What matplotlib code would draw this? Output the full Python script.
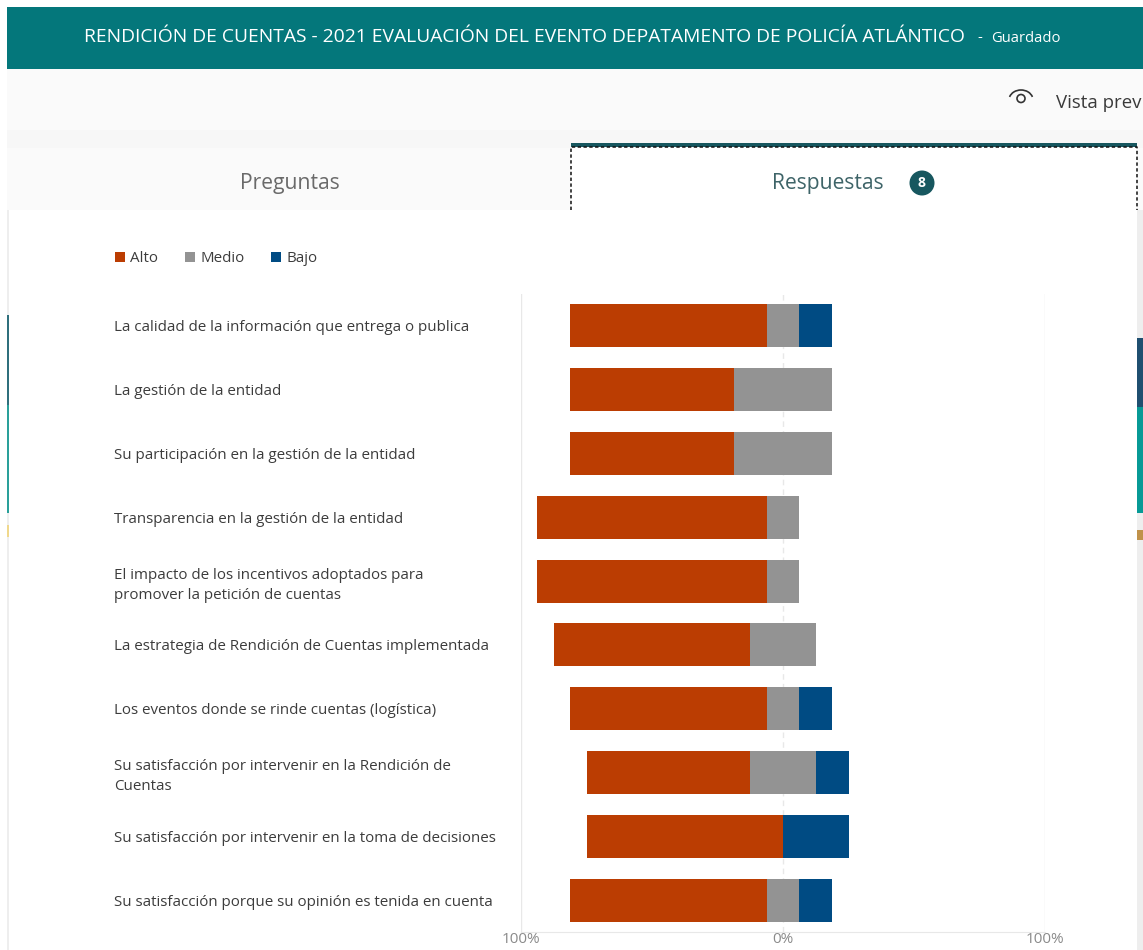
import numpy as np
import matplotlib
matplotlib.use('Agg')
import matplotlib.pyplot as plt
from matplotlib.patches import Rectangle, Circle, Arc

plt.rcParams['font.family'] = ['Open Sans', 'DejaVu Sans']

preguntas = [
    'La calidad de la información que entrega o publica',
    'La gestión de la entidad',
    'Su participación en la gestión de la entidad',
    'Transparencia en la gestión de la entidad',
    'El impacto de los incentivos adoptados para\npromover la petición de cuentas',
    'La estrategia de Rendición de Cuentas implementada',
    'Los eventos donde se rinde cuentas (logística)',
    'Su satisfacción por intervenir en la Rendición de\nCuentas',
    'Su satisfacción por intervenir en la toma de decisiones',
    'Su satisfacción porque su opinión es tenida en cuenta',
]
alto = np.array([75, 62.5, 62.5, 87.5, 87.5, 75, 75, 62.5, 75, 75])
medio = np.array([12.5, 37.5, 37.5, 12.5, 12.5, 25, 12.5, 25, 0, 12.5])
bajo = np.array([12.5, 0, 0, 0, 0, 0, 12.5, 12.5, 25, 12.5])
xticks = [-100, 0, 100]
xticklabels = ['100%', '0%', '100%']

W, H = 1143, 950
TEAL = '#04777b'
DARK = '#17575f'
ROJO = '#bb3d02'
GRIS = '#939393'
AZUL = '#004b83'

fig = plt.figure(figsize=(W / 100, H / 100), dpi=100, facecolor='white')

# page chrome, in pixel coordinates
bg = fig.add_axes([0, 0, 1, 1])
bg.set_xlim(0, W)
bg.set_ylim(H, 0)
bg.axis('off')


def box(x0, y0, x1, y1, color):
    bg.add_patch(Rectangle((x0, y0), x1 - x0, y1 - y0, fc=color, ec='none'))


box(7, 7, W, 69, TEAL)
box(7, 69, W, 130, '#fafafa')
box(7, 130, W, 148, '#f7f7f7')
box(7, 148, W, 210, '#fafafa')
box(571, 143, 1137, 210, 'white')
box(571, 143, 1137, 147, DARK)
bg.plot([571, 571, 1137, 1137], [210, 147, 147, 210], color='#111111', lw=1.1,
        ls=(0, (2.2, 1.6)))

# what shows behind the card on both sides
box(7, 210, 8.5, 950, '#eeeeee')
box(7, 315, 8.5, 405, '#2f6f7c')
box(7, 405, 8.5, 513, '#2aa09a')
box(7, 525, 8.5, 537, '#f0d88c')
box(1137, 210, W, 950, '#eeeeee')
box(1137, 338, W, 407, '#1f4f70')
box(1137, 407, W, 513, '#079a96')
box(1137, 530, W, 540, '#c0924a')

bg.text(84, 37, 'RENDICIÓN DE CUENTAS - 2021 EVALUACIÓN DEL EVENTO DEPATAMENTO DE POLICÍA ATLÁNTICO',
        color='white', fontsize=13.85, va='center', ha='left')
bg.text(977, 38, '-', color='white', fontsize=10.6, va='center', ha='left')
bg.text(991, 38, 'Guardado', color='white', fontsize=10.6, va='center', ha='left')

bg.add_patch(Arc((1021, 100), 24, 20, theta1=195, theta2=345, color='#333333', lw=1.2))
bg.add_patch(Circle((1021, 98.5), 4, fc='none', ec='#333333', lw=1.2))
bg.text(1056, 103, 'Vista prev', color='#3a3a3a', fontsize=13.4, va='center', ha='left')

bg.text(240, 183, 'Preguntas', color='#6a6a6a', fontsize=15.2, va='center', ha='left')
bg.text(772, 183, 'Respuestas', color='#3e6468', fontsize=15.2, va='center', ha='left')
bg.add_patch(Circle((922, 183), 12.5, fc=DARK, ec='none'))
bg.text(922, 183, '8', color='white', fontsize=10, fontweight='bold', va='center', ha='center')

# the chart
ax = fig.add_axes([521 / W, 1 - 932 / H, (1045 - 521) / W, (932 - 294) / H])
ax.set_facecolor('none')

y = np.arange(len(preguntas))
izq = -alto - medio / 2
bh = 43 / 63.8
ax.barh(y, alto, left=izq, height=bh, color=ROJO, label='Alto', zorder=3)
ax.barh(y, medio, left=izq + alto, height=bh, color=GRIS, label='Medio', zorder=3)
ax.barh(y, bajo, left=izq + alto + medio, height=bh, color=AZUL, label='Bajo', zorder=3)

ax.set_xlim(-100, 100)
ax.set_ylim(9.5, -0.5)
ax.set_yticks(y, preguntas)
ax.set_xticks(xticks, xticklabels)
ax.tick_params(axis='y', length=0, pad=407 * 0.72, labelsize=10.9, labelcolor='#3c3c3c')
ax.tick_params(axis='x', length=0, pad=0, labelsize=11, labelcolor='#8a8a8a')
for lab in ax.get_yticklabels():
    lab.set_ha('left')
    lab.set_linespacing(1.45)

for s in ['top', 'left', 'right']:
    ax.spines[s].set_visible(False)
ax.spines['bottom'].set_color('#e8e8e8')
ax.axvline(-100, color='#e8e8e8', lw=1, zorder=1)
ax.axvline(100, color='#e8e8e8', lw=1, zorder=1)
ax.axvline(0, color='#e8e8e8', lw=1, ls=(0, (4, 3)), zorder=1)

leg = fig.legend(loc='upper left', bbox_to_anchor=(115 / W, 1 - 251 / H), ncol=3, frameon=False,
                 fontsize=10.9, handlelength=0.66, handleheight=0.66, handletextpad=0.36,
                 columnspacing=1.75, labelcolor='#3c3c3c', borderpad=0, borderaxespad=0)

fig.savefig('out.png', dpi=100)
